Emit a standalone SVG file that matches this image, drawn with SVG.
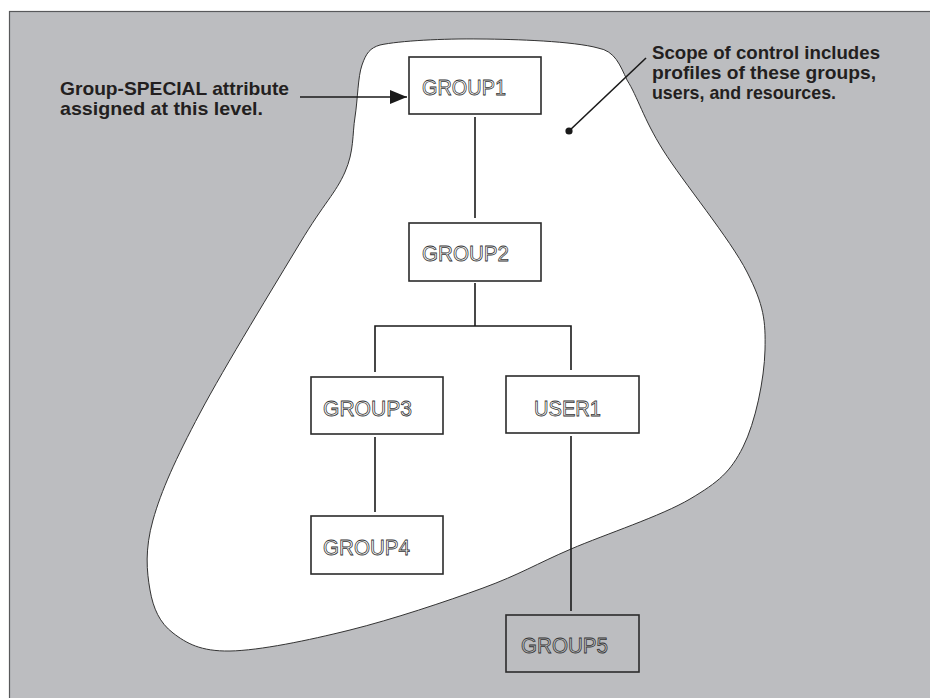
<svg xmlns="http://www.w3.org/2000/svg" width="930" height="698" viewBox="0 0 930 698">
<style>
.box{fill:#fff;stroke:#2b2b2b;stroke-width:1.6}
.box5{fill:none;stroke:#2b2b2b;stroke-width:1.6}
.lbl{font-family:"Liberation Sans",Arial,sans-serif;font-size:22px;fill:#fff;stroke:#333;stroke-width:0.8}
.lbl5{font-family:"Liberation Sans",Arial,sans-serif;font-size:22px;fill:#bcbdc0;stroke:#333;stroke-width:0.8}
.note{font-family:"Liberation Sans",Arial,sans-serif;font-size:19px;font-weight:bold;fill:#231f20}
.conn{stroke:#1a1a1a;stroke-width:1.6;fill:none}
</style>
<defs>
<marker id="ah" markerWidth="17" markerHeight="14" refX="17" refY="7" orient="auto" markerUnits="userSpaceOnUse">
<path d="M0,0 L17,7 L0,14 Z" fill="#1a1a1a"/>
</marker>
</defs>
<rect x="9.5" y="11.5" width="1000" height="800" fill="#bcbdc0" stroke="#58595b" stroke-width="1.2"/>
<path id="scope" d="M380,45 C399.7,40.7 443.7,38.5 480,39 C515.8,39.2 573.5,41.2 598,48 C615,51 620,65 627,80 C637.8,97 643,118 663,150 C683,182 730,238.7 747,272 C764,305.3 765.7,320.8 765,350 C764.3,379.2 755.5,422.2 743,447 C730.5,471.8 718.7,482 690,499 C661.3,516 605.5,534.2 571,549 C536.5,563.8 519.8,574.5 483,588 C446.2,601.5 392.2,619.5 350,630 C307.8,640.5 259.5,650.5 230,651 C200.5,651.5 186.3,643.2 173,633 C159.7,622.8 153.3,608.8 150,590 C146.7,571.2 144.7,549.5 153,520 C161.3,490.5 175.5,459.2 200,413 C224.5,366.8 275.8,283.2 300,243 C324.2,202.8 335.8,193 345,172 C354.2,151 352.2,134.8 355,117 C357.8,99.2 357.8,77 362,65 C366.2,53 370,48 380,45 Z" fill="#fff" stroke="#333" stroke-width="1"/>
<g id="connectors">
<line class="conn" x1="475" y1="117" x2="475" y2="218"/>
<line class="conn" x1="475" y1="283" x2="475" y2="326"/>
<polyline class="conn" points="375,372 375,326 571,326 571,370"/>
<line class="conn" x1="375" y1="437" x2="375" y2="512"/>
<line class="conn" x1="571" y1="436" x2="571" y2="611"/>
<line class="conn" x1="300" y1="97" x2="407" y2="97" marker-end="url(#ah)"/>
<line class="conn" x1="569" y1="131" x2="646" y2="58" stroke-width="1.4"/>
<circle cx="569" cy="131" r="3.6" fill="#1a1a1a"/>
</g>
<g id="note-left">
<text class="note" x="60" y="95" textLength="229" lengthAdjust="spacingAndGlyphs">Group-SPECIAL attribute</text>
<text class="note" x="60" y="115" textLength="203" lengthAdjust="spacingAndGlyphs">assigned at this level.</text>
</g>
<g id="note-right">
<text class="note" x="652" y="59" textLength="228" lengthAdjust="spacingAndGlyphs">Scope of control includes</text>
<text class="note" x="652" y="79" textLength="224" lengthAdjust="spacingAndGlyphs">profiles of these groups,</text>
<text class="note" x="652" y="99" textLength="184" lengthAdjust="spacingAndGlyphs">users, and resources.</text>
</g>
<g id="group1"><rect class="box" x="409" y="57" width="132" height="57"/><text class="lbl" x="422" y="95" textLength="84" lengthAdjust="spacingAndGlyphs">GROUP1</text></g>
<g id="group2"><rect class="box" x="409" y="223" width="132" height="58"/><text class="lbl" x="422" y="261" textLength="87" lengthAdjust="spacingAndGlyphs">GROUP2</text></g>
<g id="group3"><rect class="box" x="311" y="377" width="132" height="57"/><text class="lbl" x="323" y="416" textLength="89" lengthAdjust="spacingAndGlyphs">GROUP3</text></g>
<g id="user1"><rect class="box" x="506" y="376" width="133" height="57"/><text class="lbl" x="534" y="416" textLength="67" lengthAdjust="spacingAndGlyphs">USER1</text></g>
<g id="group4"><rect class="box" x="311" y="516" width="132" height="58"/><text class="lbl" x="323" y="555" textLength="87" lengthAdjust="spacingAndGlyphs">GROUP4</text></g>
<g id="group5"><rect class="box5" x="506" y="615" width="133" height="57"/><text class="lbl5" x="521" y="653" textLength="87" lengthAdjust="spacingAndGlyphs">GROUP5</text></g>
</svg>
